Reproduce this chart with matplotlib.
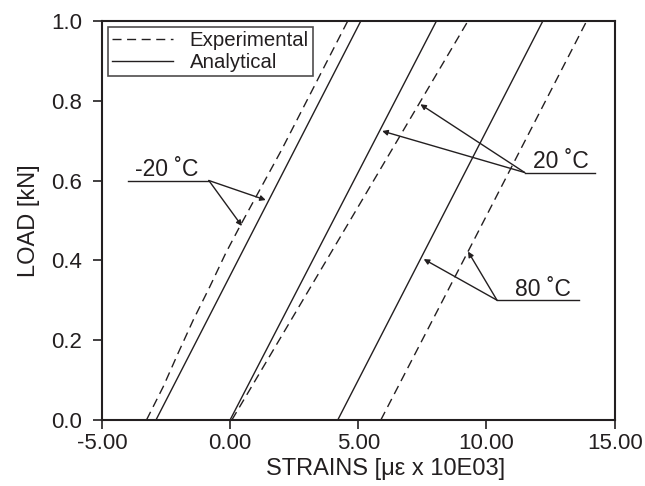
import matplotlib
matplotlib.use("Agg")
import matplotlib.pyplot as plt

plt.rcParams['font.family'] = ['Liberation Sans', 'DejaVu Sans']

# Analytical (solid) lines: strain at load 0 and 1 kN
ana_load = [0.0, 1.0]
ana_m20 = [-2.89, 5.10]
ana_20 = [0.0, 8.05]
ana_80 = [4.20, 12.20]

# Experimental (dashed) curves
exp_m20_load = [0.0, 0.083, 0.167, 0.25, 0.334, 0.418, 0.485, 0.677, 1.0]
exp_m20_strain = [-3.26, -2.61, -2.03, -1.44, -0.79, -0.17, 0.38, 2.01, 4.59]
exp_20_load = [0.0, 0.5, 1.0]
exp_20_strain = [0.07, 4.68, 9.28]
exp_80_load = [0.0, 0.422, 1.0]
exp_80_strain = [5.88, 9.28, 13.91]

xticks = [-5, 0, 5, 10, 15]
xticklabels = ['-5.00', '0.00', '5.00', '10.00', '15.00']
yticks = [0.0, 0.2, 0.4, 0.6, 0.8, 1.0]
yticklabels = ['0.0', '0.2', '0.4', '0.6', '0.8', '1.0']

# Annotation data
ann_m20 = dict(text='-20 ˚C', x0=-4.0, x1=-0.83, y=0.60, tail=-0.83,
               tips=[(1.39, 0.551), (0.46, 0.486)], tx=-3.7)
ann_20 = dict(text='20 ˚C', x0=11.49, x1=14.22, y=0.62, tail=11.49,
              tips=[(7.42, 0.791), (5.93, 0.724)], tx=11.8)
ann_80 = dict(text='80 ˚C', x0=10.41, x1=13.6, y=0.30, tail=10.41,
              tips=[(7.55, 0.403), (9.28, 0.422)], tx=11.1)

tc = '#231f20'
fig = plt.figure(figsize=(6.45, 4.86), dpi=100)
ax = fig.add_axes([0.158, 0.136, 0.795, 0.821])

dash = (6.5, 4)
ax.plot(exp_m20_strain, exp_m20_load, color=tc, lw=1.0, dashes=dash, label='Experimental')
ax.plot(ana_m20, ana_load, color=tc, lw=1.0, label='Analytical')
ax.plot(ana_20, ana_load, color=tc, lw=1.0)
ax.plot(exp_20_strain, exp_20_load, color=tc, lw=1.0, dashes=dash)
ax.plot(ana_80, ana_load, color=tc, lw=1.0)
ax.plot(exp_80_strain, exp_80_load, color=tc, lw=1.0, dashes=dash)

for a in (ann_m20, ann_20, ann_80):
    ax.plot([a['x0'], a['x1']], [a['y'], a['y']], color=tc, lw=1.0)
    ax.text(a['tx'], a['y'] + 0.011, a['text'], fontsize=16.5, color=tc,
            ha='left', va='baseline')
    for tip in a['tips']:
        ax.annotate('', xy=tip, xytext=(a['tail'], a['y']),
                    arrowprops=dict(arrowstyle='-|>', color=tc, lw=1.0,
                                    mutation_scale=8, shrinkA=0, shrinkB=0))

ax.set_xlim(-5, 15)
ax.set_ylim(0, 1)
ax.set_xticks(xticks)
ax.set_xticklabels(xticklabels)
ax.set_yticks(yticks)
ax.set_yticklabels(yticklabels)
ax.tick_params(direction='out', length=6.5, width=1.2, labelsize=16, colors=tc)
ax.tick_params(axis='x', pad=3)
ax.tick_params(axis='y', pad=8)
for s in ax.spines.values():
    s.set_linewidth(1.5)
    s.set_color(tc)

ax.set_xlabel('STRAINS [με x 10E03]', fontsize=17, color=tc, labelpad=2)
ax.xaxis.set_label_coords(0.553, -0.095)
ax.set_ylabel('LOAD [kN]', fontsize=17, color=tc, labelpad=8)

leg = ax.legend(loc='upper left', fontsize=14.7, frameon=True, fancybox=False,
                edgecolor=tc, handlelength=3.0, borderpad=0.2, labelspacing=0.15,
                handletextpad=0.8, borderaxespad=0.3)
leg.get_frame().set_linewidth(1.2)
for t in leg.get_texts():
    t.set_color(tc)

fig.savefig('out.png', dpi=100)
